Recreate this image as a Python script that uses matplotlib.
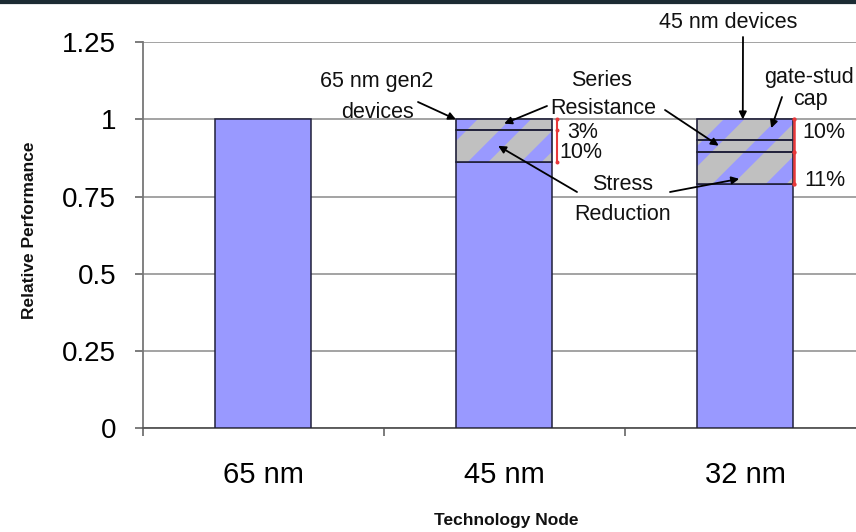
import matplotlib
matplotlib.use("Agg")
import matplotlib.pyplot as plt
from matplotlib.patches import Rectangle
import numpy as np

# ---------------- data ----------------
categories = ['65 nm', '45 nm', '32 nm']
base_perf = [1.0, 0.863, 0.79]        # solid blue part
stress_red = [0.0, 0.103, 0.103]      # stress reduction segment
series_res = [0.0, 0.034, 0.04]       # series resistance segment
gate_stud = [0.0, 0.0, 0.067]         # gate-stud cap segment
yticks = [0, 0.25, 0.5, 0.75, 1, 1.25]
ytick_labels = ['0', '0.25', '0.5', '0.75', '1', '1.25']

DPI = 160
P = 100.0 / DPI   # sizes below are given as if dpi were 100

plt.rcParams['font.family'] = ['Liberation Sans', 'DejaVu Sans']
plt.rcParams['hatch.linewidth'] = 10.5 * P

W, H = 856, 532
fig = plt.figure(figsize=(W / DPI, H / DPI), dpi=DPI)
fig.patch.set_facecolor('white')

ax_left, ax_bottom, ax_top = 142.7, 428.0, 42.3
cat_w = 241.0
ax = fig.add_axes([ax_left / W, (H - ax_bottom) / H, 3 * cat_w / W, (ax_bottom - ax_top) / H])
ax.set_xlim(-0.5, 2.5)
ax.set_ylim(0, 1.25)

BLUE = '#9999FF'
GRAY = '#C0C0C0'
EDGE = '#20203a'
bw = 0.40
x = np.arange(len(categories))

# grid
ax.set_yticks(yticks)
ax.set_yticklabels(ytick_labels)
ax.yaxis.grid(True, color='#8a8a8a', lw=1.1 * P)
ax.set_axisbelow(True)

# base bars
ax.bar(x, base_perf, width=bw, color=BLUE, edgecolor=EDGE, lw=1.1 * P, zorder=3)

# hatched segments
bottom = np.array(base_perf, dtype=float)
for seg in (stress_red, series_res, gate_stud):
    seg = np.array(seg, dtype=float)
    m = seg > 0
    ax.bar(x[m], seg[m], bottom=bottom[m], width=bw, color=GRAY, edgecolor=BLUE,
           hatch='/', lw=0, zorder=3)
    ax.bar(x[m], seg[m], bottom=bottom[m], width=bw, fill=False, edgecolor=EDGE,
           lw=1.2 * P, zorder=4)
    bottom = bottom + seg

# spines / ticks
for s in ('top', 'right'):
    ax.spines[s].set_visible(False)
ax.spines['left'].set_color('#777777')
ax.spines['bottom'].set_color('#555555')
ax.spines['left'].set_linewidth(1.3 * P)
ax.spines['bottom'].set_linewidth(1.3 * P)
ax.set_xticks(x)
ax.set_xticklabels(categories, fontsize=21 * P)
ax.set_xticks([-0.5, 0.5, 1.5], minor=True)
ax.tick_params(axis='x', which='major', length=0, pad=24 * P)
ax.tick_params(axis='x', which='minor', length=6 * P, width=1.2 * P, color='#666666',
               direction='out')
ax.tick_params(axis='y', length=6 * P, width=1.2 * P, color='#666666', direction='out',
               labelsize=20 * P, pad=13 * P)

def px(pxx, pyy):
    return ((pxx - ax_left) / cat_w - 0.5, (ax_bottom - pyy) / (ax_bottom - ax_top) * 1.25)

# texts
fs = 15.5 * P
txt = dict(fontsize=fs, ha='center', va='center', color='#111111')
ax.text(*px(377, 81), '65 nm gen2', **txt)
ax.text(*px(378, 113), 'devices', **txt)
ax.text(*px(602, 80), 'Series', **txt)
ax.text(*px(603, 108), 'Resistance', **txt)
ax.text(*px(623, 184), 'Stress', **txt)
ax.text(*px(623, 215), 'Reduction', **txt)
ax.text(*px(728, 22), '45 nm devices', **txt)
ax.text(*px(764, 77), 'gate-stud', fontsize=fs, ha='left', va='center', color='#111111')
ax.text(*px(810, 100), 'cap', **txt)
ax.text(*px(583, 132), '3%', **txt)
ax.text(*px(581, 153), '10%', **txt)
ax.text(*px(824, 133), '10%', **txt)
ax.text(*px(825, 180), '11%', **txt)

# arrows
top45 = base_perf[1] + stress_red[1] + series_res[1]
top32 = base_perf[2] + stress_red[2] + series_res[2] + gate_stud[2]
aprops = dict(arrowstyle='-|>', color='black', lw=1.3 * P, mutation_scale=11 * P,
              shrinkA=0, shrinkB=0)
arrows = [
    ((1 - bw / 2, top45), px(418, 102)),
    ((1.0, base_perf[1] + stress_red[1] + series_res[1] * 0.6), px(547, 106)),
    ((1.89, base_perf[2] + stress_red[2] + series_res[2] * 0.55), px(665, 110)),
    ((0.975, base_perf[1] + stress_red[1] * 0.5), px(577, 192)),
    ((1.975, base_perf[2] + stress_red[2] * 0.17), px(670, 192)),
    ((1.99, top32), px(743, 37)),
    ((2.108, top32 - gate_stud[2] * 0.42), px(782, 97)),
]
for xy, xyt in arrows:
    ax.annotate('', xy=xy, xytext=xyt, arrowprops=aprops, annotation_clip=False, zorder=6)

# red range markers
RED = '#e8383a'
x45 = px(557, 0)[0]
ax.plot([x45, x45], [base_perf[1], top45], color=RED, lw=1.5 * P, zorder=5, clip_on=False)
ax.plot([x45, x45, x45], [base_perf[1], base_perf[1] + stress_red[1], top45],
        ls='none', marker='.', ms=2.5 * P, color=RED, zorder=5, clip_on=False)
x32 = px(794, 0)[0]
ax.plot([x32, x32], [base_perf[2], top32], color=RED, lw=1.8 * P, zorder=5, clip_on=False)
ax.plot([x32, x32, x32], [base_perf[2], base_perf[2] + stress_red[2], top32],
        ls='none', marker='.', ms=3 * P, color=RED, zorder=5, clip_on=False)

# axis titles
fig.text(506 / W, 1 - 521 / H, 'Technology Node', fontsize=12.5 * P, fontweight='bold',
         ha='center', va='center', color='#111111')
fig.text(30 / W, 1 - 230 / H, 'Relative Performance', fontsize=12.5 * P, fontweight='bold',
         rotation=90, ha='center', va='center', color='#111111')

# dark top border
fig.patches.append(Rectangle((0, 1 - 3 / H), 1, 3 / H, transform=fig.transFigure,
                             color='#1c2b33', zorder=10))

fig.savefig('out.png', dpi=DPI, facecolor='white')
